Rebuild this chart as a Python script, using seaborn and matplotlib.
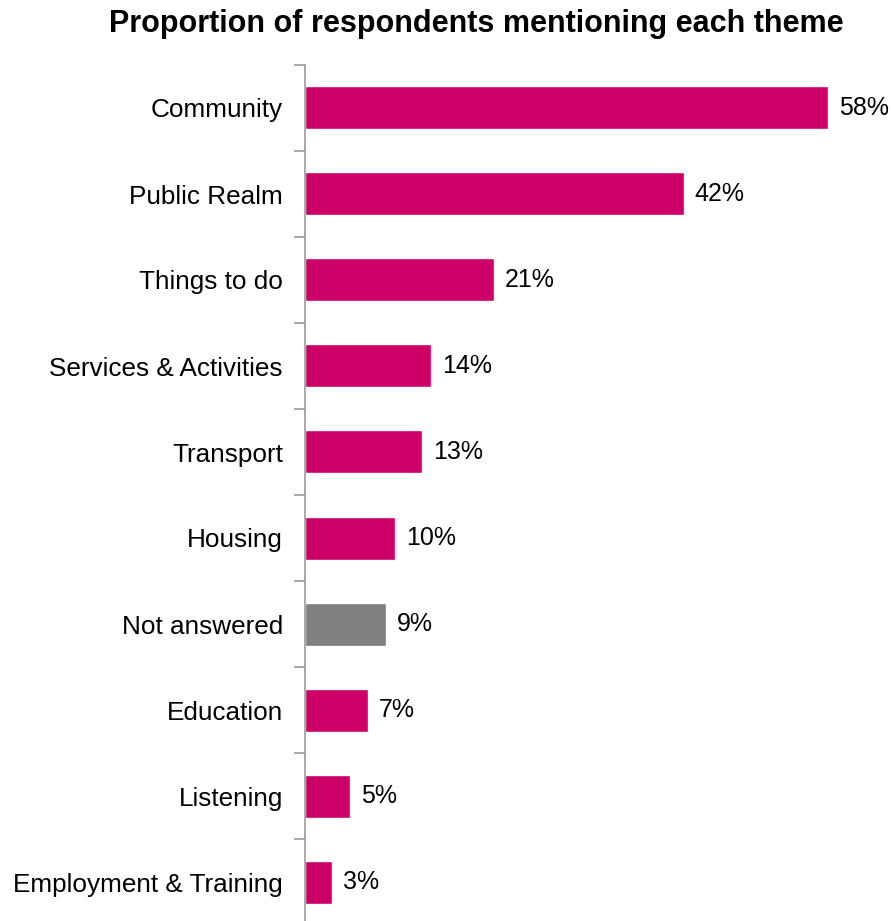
import matplotlib
matplotlib.use("Agg")
import matplotlib.pyplot as plt
import seaborn as sns
import pandas as pd
import numpy as np

themes = ["Community", "Public Realm", "Things to do", "Services & Activities",
          "Transport", "Housing", "Not answered", "Education", "Listening",
          "Employment & Training"]
shares = [58, 42, 21, 14, 13, 10, 9, 7, 5, 3]
pink = "#CC0066"
grey = "#808080"
bar_colors = [grey if t == "Not answered" else pink for t in themes]

sns.set_theme(style="white")
plt.rcParams["font.family"] = ["Liberation Sans", "DejaVu Sans"]

df = pd.DataFrame({"theme": themes, "share": shares})

fig = plt.figure(figsize=(8.93, 9.21), dpi=100)
ax = fig.add_axes([305 / 893, -4 / 921, 586 / 893, 860 / 921])

sns.barplot(data=df, y="theme", x="share", hue="theme", palette=bar_colors,
            order=themes, hue_order=themes, legend=False, width=0.5,
            orient="h", ax=ax, saturation=1)

for patch, val in zip(ax.patches, shares):
    ax.text(patch.get_width() + 1.2, patch.get_y() + patch.get_height() / 2,
            f"{val}%", va="center", ha="left", fontsize=18, color="black")

ax.set_xlim(0, 65)
ax.set_ylim(len(themes) - 0.5, -0.5)
ax.set_xlabel("")
ax.set_ylabel("")
ax.set_xticks([])

for s in ["top", "right", "bottom"]:
    ax.spines[s].set_visible(False)
ax.spines["left"].set_color("#999999")
ax.spines["left"].set_linewidth(1.2)

ax.tick_params(axis="y", which="major", length=0, pad=16, labelsize=18.8,
               labelcolor="black")
ax.set_yticks(np.arange(-0.5, len(themes) + 0.5, 1), minor=True)
ax.tick_params(axis="y", which="minor", length=8, width=1.2, color="#999999",
               direction="out", left=True)

fig.text(476 / 893, 1 - 24 / 921, "Proportion of respondents mentioning each theme",
         ha="center", va="center", fontsize=22, fontweight="bold", color="black")

fig.savefig("out.png", dpi=100)
